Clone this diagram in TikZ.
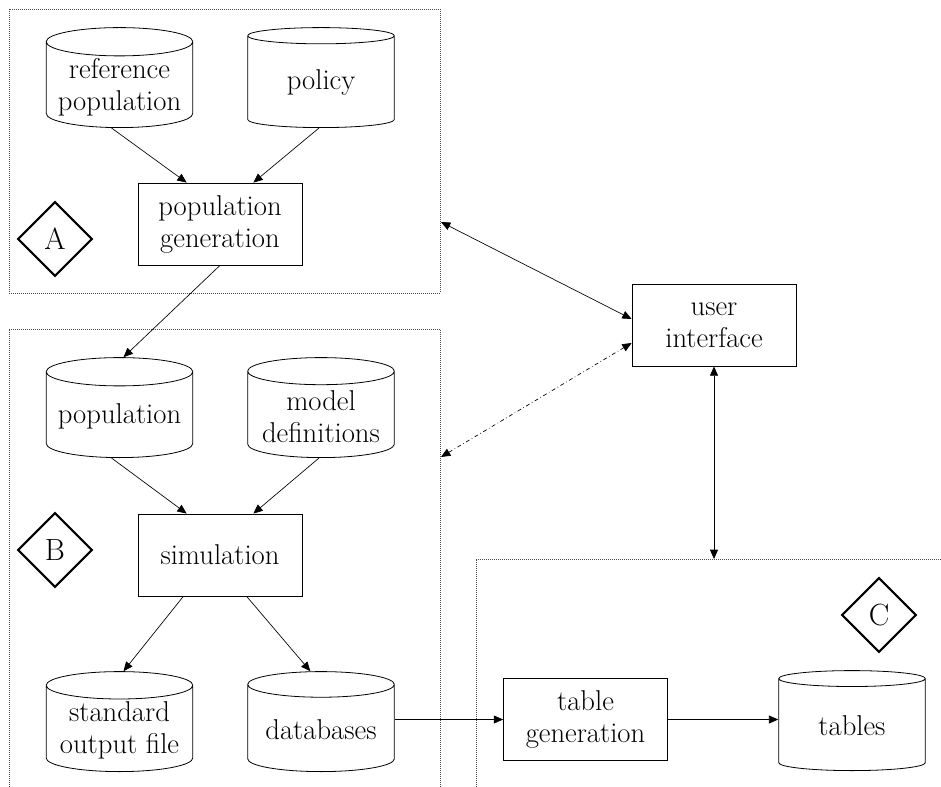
\documentclass[tikz,border=0pt]{standalone}
\usetikzlibrary{shapes.geometric,arrows.meta}
\begin{document}
\begin{tikzpicture}[x=0.75pt,y=-0.75pt,>={Triangle[length=7pt,width=6pt]}]
\tikzstyle{lien}=[->,line width=0.5pt]
\tikzset{base/.style={draw,line width=0.6pt,cylinder,shape border rotate=90,aspect=0.22,anchor=south,
inner xsep=2pt,inner ysep=0pt,minimum width=110pt,minimum height=75pt,align=center,font=\fontsize{21.5}{24}\selectfont},
processus/.style={draw,line width=0.6pt,minimum width=123pt,minimum height=61.5pt,align=center,font=\fontsize{21.5}{24}\selectfont},
etiquette/.style={draw,diamond,line width=1.6pt,minimum size=56pt,inner sep=0pt,font=\fontsize{23}{24}\selectfont},
zone/.style={densely dotted,line width=0.5pt,black!70}}
\useasboundingbox (0,0) rectangle (941,787);

% zones
\draw[zone] (9,9) rectangle (440,293);
\draw[zone] (9,787) -- (9,329) -- (440,329) -- (440,787);
\draw[zone] (476,787) -- (476,559) -- (941,559);
\coordinate (ZA) at (441,222);
\coordinate (ZB) at (441,457);
\coordinate (ZC) at (714,559);

% A
\node[base] (A1) at (119.5,128){reference\\population};
\node[base] (A2) at (321,128){policy};
\node[processus] (A) at (220,224){population\\generation};
\node[etiquette] (LA) at (55,239){A};

\draw[lien] ([xshift=-6pt]A1.south) -- ([xshift=-25pt]A.north);
\draw[lien] ([xshift=-1.5pt]A2.south) -- ([xshift=25pt]A.north);

% B
\node[base] (B1) at (119.5,458){population};
\node[base] (B2) at (321,458){model\\definitions};
\node[processus] (B) at (220,555){simulation};
\node[etiquette] (LB) at (55,550){B};
\node[base] (B3) at (119.5,772){standard\\output file};
\node[base] (B4) at (321,772){databases};

\draw[lien] (A.south) -- ([xshift=3pt]B1.north);
\draw[lien] ([xshift=-6pt]B1.south) -- ([xshift=-25pt]B.north);
\draw[lien] ([xshift=-1.5pt]B2.south) -- ([xshift=25pt]B.north);
\draw[lien] ([xshift=-27.5pt]B.south) -- ([xshift=3pt]B3.north);
\draw[lien] ([xshift=20pt]B.south) -- ([xshift=-8pt]B4.north);

% C
\node[processus] (C) at (585.5,719.5){table\\generation};
\node[base] (C1) at (852,771){tables};
\node[etiquette] (LC) at (879,615){C};

\draw[lien] (C.west -| B4.east) -- (C.west);
\draw[lien] (C.east) -- (C.east -| C1.west);

% user interface
\node[processus] (U) at (714,325){user\\interface};
\draw[lien,<->] (ZA) -- ([yshift=4.5pt]U.west);
\draw[lien,<->,dashdotted] (ZB) -- ([yshift=-13.5pt]U.west);
\draw[lien,<->] (ZC) -- (U.south);
\end{tikzpicture}
\end{document}
